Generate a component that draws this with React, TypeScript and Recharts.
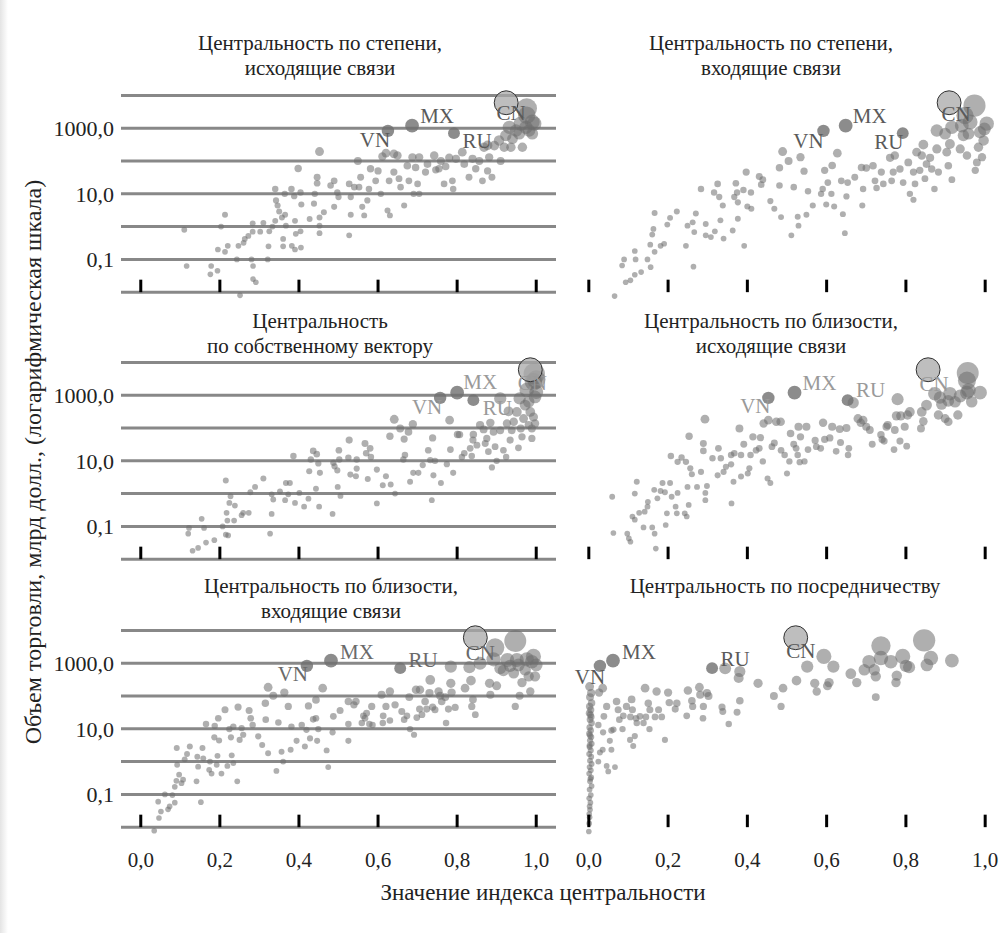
import React from 'react'
import { ScatterChart, Scatter, XAxis, YAxis, CartesianGrid } from 'recharts'

const FONT = "'Liberation Serif', 'DejaVu Serif', serif"

// axis ticks
const gridTicks = [0.01, 0.1, 1, 10, 100, 1000, 10000]
const yTickLabels: Record<string, string> = { '0.1': '0,1', '10': '10,0', '1000': '1000,0' }
const xTicks = [0, 0.2, 0.4, 0.6, 0.8, 1]

// labelled countries, trade volume (bn USD)
const hlCodes = ['VN', 'MX', 'RU', 'CN']
const hlVolume = [830, 1200, 710, 6000]

// centrality of labelled countries in each panel
const degreeOutHl = [0.625, 0.686, 0.792, 0.924]
const degreeInHl = [0.592, 0.648, 0.792, 0.909]
const eigenHl = [0.757, 0.8, 0.841, 0.985]
const closeOutHl = [0.453, 0.519, 0.653, 0.856]
const closeInHl = [0.42, 0.481, 0.656, 0.846]
const betweenHl = [0.028, 0.061, 0.311, 0.522]

// [centrality, trade volume]
const degreeOut: [number, number][] = [
  [0.11, 0.8], [0.116, 0.063], [0.178, 0.063], [0.176, 0.035], [0.194, 0.045], [0.195, 0.2], [0.213, 2.3], [0.203, 1.0],
  [0.22, 0.26], [0.213, 0.17], [0.243, 0.1], [0.247, 0.26], [0.26, 0.32], [0.263, 0.42], [0.272, 0.52], [0.28, 0.1],
  [0.284, 0.063], [0.284, 0.025], [0.291, 0.02], [0.251, 0.008], [0.283, 0.7], [0.283, 1.26], [0.302, 0.7], [0.31, 1.3],
  [0.321, 0.1], [0.323, 0.25], [0.325, 0.72], [0.333, 1.0], [0.34, 1.5], [0.342, 6.3], [0.34, 14], [0.346, 4.4],
  [0.35, 2.9], [0.357, 1.9], [0.36, 0.42], [0.36, 0.25], [0.364, 10], [0.365, 2.3], [0.367, 1.07], [0.381, 14],
  [0.388, 8.5], [0.382, 0.26], [0.39, 0.2], [0.39, 1.5], [0.392, 0.6], [0.398, 59],
  [0.452, 195], [0.549, 100], [0.404, 11], [0.406, 4.7], [0.404, 0.72], [0.405, 0.23], [0.446, 32], [0.446, 21],
  [0.44, 10], [0.438, 5], [0.427, 1.7], [0.452, 1.9], [0.452, 1.07], [0.452, 0.63], [0.463, 2.75], [0.48, 18],
  [0.489, 25], [0.497, 11], [0.489, 4], [0.5, 8], [0.527, 20], [0.531, 8], [0.531, 2.3], [0.527, 0.54],
  [0.54, 16], [0.552, 16], [0.556, 32], [0.56, 4], [0.565, 2.2], [0.573, 6.3], [0.577, 14], [0.581, 58],
  [0.594, 25], [0.6, 50], [0.607, 10], [0.611, 138], [0.62, 174], [0.624, 3.1], [0.63, 2.2], [0.628, 25],
  [0.64, 46], [0.64, 166], [0.649, 148], [0.653, 29], [0.657, 16], [0.666, 4.4], [0.674, 72], [0.678, 25],
  [0.687, 130], [0.69, 10], [0.695, 64], [0.7, 20], [0.704, 130], [0.704, 10], [0.72, 46], [0.725, 81],
  [0.742, 148], [0.746, 54], [0.754, 58], [0.759, 100], [0.767, 20], [0.771, 68], [0.78, 126], [0.788, 25],
  [0.79, 14], [0.797, 117], [0.813, 186], [0.818, 81], [0.83, 32], [0.839, 117], [0.847, 58], [0.856, 100],
  [0.864, 25], [0.868, 263], [0.877, 50], [0.877, 300], [0.881, 130], [0.888, 32], [0.894, 295], [0.906, 426],
  [0.91, 100], [0.919, 263], [0.923, 600], [0.932, 1070], [0.936, 263], [0.94, 480], [0.949, 850], [0.957, 680],
  [0.961, 1380], [0.965, 263], [0.974, 1070], [0.982, 850], [0.99, 1550], [0.995, 1380], [0.976, 4000], [0.976, 2500],
  [0.99, 680],
]

const degreeIn: [number, number][] = [
  [0.065, 0.0076], [0.084, 0.065], [0.093, 0.02], [0.105, 0.023], [0.116, 0.034], [0.132, 0.041], [0.089, 0.1], [0.116, 0.18],
  [0.118, 0.1], [0.148, 0.1], [0.156, 0.058], [0.155, 0.28], [0.16, 0.57], [0.166, 2.6], [0.163, 0.85], [0.166, 0.17],
  [0.181, 0.26], [0.19, 0.3], [0.198, 1.15], [0.205, 1.85], [0.222, 2.9], [0.245, 0.26], [0.249, 1.07], [0.262, 1.35],
  [0.266, 0.68], [0.264, 0.06], [0.27, 2.5], [0.283, 14], [0.295, 1.2], [0.295, 0.54], [0.308, 0.48], [0.316, 11],
  [0.318, 0.72], [0.325, 20], [0.329, 8], [0.332, 1.55], [0.338, 4.4], [0.34, 0.43], [0.363, 0.76], [0.367, 8],
  [0.371, 21], [0.374, 11], [0.376, 1.74], [0.376, 5.5], [0.39, 13], [0.392, 0.26], [0.397, 46], [0.4, 4.1],
  [0.41, 3.5], [0.409, 11], [0.43, 34], [0.435, 19], [0.439, 27], [0.458, 6], [0.468, 3.5], [0.481, 62],
  [0.481, 18], [0.485, 1.95], [0.489, 195], [0.504, 100], [0.511, 0.54], [0.517, 16], [0.527, 2.0], [0.529, 1.07],
  [0.534, 131], [0.543, 49], [0.549, 2.3], [0.553, 12], [0.565, 4.4], [0.586, 10], [0.59, 14], [0.595, 52],
  [0.599, 4.7], [0.603, 22], [0.612, 10], [0.614, 73], [0.619, 4.1], [0.627, 174], [0.637, 25], [0.641, 2.4],
  [0.646, 0.63], [0.65, 8.3], [0.653, 22], [0.671, 32], [0.688, 64], [0.69, 4.4], [0.692, 14], [0.7, 61],
  [0.717, 72], [0.722, 25], [0.726, 15], [0.738, 46], [0.743, 20], [0.76, 125], [0.764, 25], [0.768, 46],
  [0.772, 148], [0.785, 57], [0.793, 22], [0.806, 91], [0.81, 10], [0.819, 6.6], [0.819, 46], [0.823, 20],
  [0.827, 186], [0.835, 52], [0.84, 148], [0.844, 316], [0.848, 29], [0.852, 81], [0.861, 125], [0.865, 57],
  [0.872, 14], [0.878, 234], [0.878, 850], [0.882, 46], [0.899, 680], [0.903, 186], [0.907, 72], [0.911, 330],
  [0.916, 27], [0.916, 1070], [0.937, 234], [0.941, 1200], [0.945, 600], [0.954, 148], [0.958, 680], [0.962, 1550],
  [0.975, 52], [0.979, 91], [0.983, 263], [0.992, 131], [0.996, 426], [0.998, 950], [0.987, 760], [0.973, 4900],
  [0.949, 2450], [1.004, 1380],
]

const eigen: [number, number][] = [
  [0.12, 0.06], [0.122, 0.09], [0.131, 0.018], [0.145, 0.022], [0.154, 0.17], [0.16, 0.09], [0.165, 0.032], [0.186, 0.038],
  [0.207, 0.1], [0.215, 2.5], [0.217, 0.26], [0.219, 0.15], [0.215, 0.056], [0.221, 0.053], [0.224, 0.52], [0.227, 0.83],
  [0.238, 0.43], [0.236, 0.15], [0.255, 0.22], [0.259, 0.26], [0.273, 0.26], [0.277, 1.1], [0.289, 1.6], [0.31, 2.9],
  [0.327, 0.06], [0.331, 0.24], [0.331, 0.95], [0.335, 0.66], [0.352, 1.17], [0.365, 0.63], [0.367, 2.1], [0.377, 2.1],
  [0.373, 0.95], [0.386, 14], [0.39, 0.52], [0.401, 1.05], [0.413, 0.4], [0.424, 0.7], [0.426, 4.8], [0.43, 11],
  [0.436, 20], [0.443, 1.4], [0.445, 16], [0.449, 8.3], [0.451, 0.4], [0.453, 4.3], [0.485, 0.24], [0.487, 8.7],
  [0.49, 6.8], [0.497, 5.1], [0.498, 1.6], [0.501, 21], [0.502, 11], [0.505, 0.85], [0.525, 12.5], [0.527, 43],
  [0.53, 3.8], [0.544, 3.4], [0.546, 5.8], [0.546, 11], [0.567, 34], [0.57, 17], [0.574, 2.8], [0.58, 24],
  [0.582, 13], [0.597, 0.5], [0.597, 5.4], [0.612, 1.8], [0.62, 3.4], [0.63, 56], [0.632, 1.9], [0.641, 185],
  [0.643, 1.0], [0.656, 97], [0.664, 11], [0.666, 46], [0.668, 15], [0.677, 76], [0.681, 2.3], [0.688, 131],
  [0.689, 4.3], [0.702, 4.3], [0.713, 7.4], [0.727, 21], [0.732, 10.5], [0.736, 0.63], [0.738, 50], [0.74, 3.6],
  [0.744, 10], [0.759, 2.1], [0.774, 7.9], [0.781, 174], [0.783, 22], [0.79, 4.3], [0.801, 64], [0.806, 63],
  [0.812, 13], [0.818, 17], [0.833, 24], [0.837, 14], [0.84, 43], [0.841, 64], [0.85, 30], [0.858, 123],
  [0.867, 91], [0.871, 34], [0.875, 48], [0.879, 19], [0.884, 144], [0.888, 6.3], [0.892, 76], [0.896, 27],
  [0.9, 10], [0.909, 800], [0.909, 85], [0.917, 21], [0.924, 13], [0.926, 138], [0.93, 324], [0.934, 43],
  [0.938, 85], [0.943, 155], [0.951, 309], [0.955, 25], [0.958, 800], [0.961, 97], [0.964, 54], [0.968, 195],
  [0.972, 500], [0.976, 1440], [0.981, 123], [0.981, 630], [0.985, 310], [0.989, 48], [0.989, 97], [0.993, 2600],
  [0.993, 218], [0.997, 890], [0.997, 138], [1.0, 1260], [0.995, 4500], [1.0, 3000],
]

const closeOut: [number, number][] = [
  [0.059, 0.8], [0.062, 0.063], [0.097, 0.06], [0.101, 0.043], [0.105, 0.034], [0.11, 0.2], [0.116, 1.0], [0.121, 2.3],
  [0.116, 0.16], [0.127, 0.26], [0.138, 0.093], [0.141, 0.28], [0.148, 0.4], [0.149, 0.56], [0.16, 0.093], [0.165, 1.3],
  [0.166, 0.06], [0.169, 0.021], [0.173, 0.72], [0.181, 1.2], [0.186, 2.1], [0.192, 1.1], [0.197, 0.25], [0.194, 0.11],
  [0.205, 2.1], [0.207, 14], [0.209, 0.8], [0.219, 0.4], [0.222, 0.25], [0.224, 1.05], [0.224, 9.3], [0.234, 12.6],
  [0.245, 9.3], [0.242, 0.25], [0.247, 0.2], [0.249, 1.6], [0.252, 0.45], [0.256, 5.9], [0.253, 56], [0.26, 3.9],
  [0.273, 1.6], [0.283, 4.6], [0.289, 20], [0.289, 34], [0.294, 1.05], [0.294, 0.63], [0.293, 186], [0.298, 1.7],
  [0.312, 12], [0.325, 3.6], [0.327, 24], [0.333, 12], [0.34, 4.6], [0.346, 6.6], [0.359, 15], [0.359, 7.8],
  [0.36, 0.5], [0.365, 2.3], [0.367, 17], [0.38, 97], [0.384, 3.3], [0.384, 15], [0.391, 32], [0.401, 4.1],
  [0.405, 5.9], [0.408, 15], [0.414, 54], [0.422, 21], [0.43, 24], [0.433, 51], [0.439, 9.6], [0.441, 138],
  [0.451, 2.9], [0.458, 2.1], [0.453, 174], [0.462, 27], [0.468, 35], [0.473, 155], [0.484, 155], [0.485, 21],
  [0.494, 15], [0.5, 4.1], [0.506, 9.6], [0.509, 68], [0.517, 32], [0.523, 24], [0.527, 15], [0.529, 110],
  [0.532, 9.1], [0.534, 54], [0.544, 9.6], [0.549, 110], [0.553, 22], [0.571, 42], [0.574, 27], [0.585, 24],
  [0.591, 145], [0.595, 45], [0.608, 50], [0.614, 110], [0.624, 19.5], [0.633, 93], [0.635, 36], [0.654, 15],
  [0.656, 24], [0.65, 100], [0.667, 590], [0.679, 195], [0.686, 145], [0.692, 174], [0.7, 110], [0.709, 87],
  [0.715, 32], [0.737, 62], [0.74, 45], [0.745, 40], [0.751, 110], [0.754, 123], [0.77, 22], [0.772, 87],
  [0.776, 235], [0.779, 760], [0.785, 40], [0.787, 235], [0.797, 110], [0.802, 28], [0.804, 250], [0.81, 310],
  [0.838, 97], [0.84, 310], [0.844, 160], [0.852, 500], [0.873, 1120], [0.882, 250], [0.886, 850], [0.89, 530],
  [0.899, 195], [0.907, 155], [0.907, 670], [0.911, 1120], [0.924, 630], [0.931, 250], [0.937, 950], [0.954, 2800],
  [0.958, 1400], [0.954, 1200], [0.966, 630], [0.987, 1200], [0.956, 4800],
]

const closeIn: [number, number][] = [
  [0.034, 0.0078], [0.046, 0.019], [0.051, 0.03], [0.044, 0.06], [0.061, 0.1], [0.069, 0.035], [0.073, 0.043], [0.08, 0.095],
  [0.086, 0.056], [0.086, 0.17], [0.09, 0.26], [0.092, 0.8], [0.091, 2.6], [0.097, 0.4], [0.103, 0.22], [0.107, 0.28],
  [0.111, 1.17], [0.117, 1.7], [0.124, 2.9], [0.141, 0.25], [0.143, 1.4], [0.145, 0.7], [0.152, 0.058], [0.156, 2.6],
  [0.158, 1.26], [0.165, 14], [0.173, 0.56], [0.175, 1.0], [0.179, 0.43], [0.186, 5.5], [0.187, 12.3], [0.192, 0.8],
  [0.194, 1.5], [0.196, 21], [0.198, 4.4], [0.204, 0.43], [0.213, 38], [0.219, 0.74], [0.224, 9.8], [0.228, 5.5],
  [0.23, 1.55], [0.234, 0.9], [0.234, 11.7], [0.244, 0.25], [0.246, 46], [0.25, 4.6], [0.255, 10.5], [0.259, 6.6],
  [0.274, 36], [0.278, 21], [0.283, 13], [0.297, 5.9], [0.307, 3.2], [0.315, 60], [0.316, 19], [0.322, 185],
  [0.322, 1.8], [0.335, 102], [0.343, 0.52], [0.348, 15.5], [0.356, 2.0], [0.36, 1.0], [0.363, 128], [0.373, 48],
  [0.379, 2.3], [0.381, 11.7], [0.394, 4.3], [0.407, 13], [0.415, 2.9], [0.419, 9.3], [0.424, 50], [0.428, 5.1],
  [0.436, 19.5], [0.443, 21], [0.443, 76], [0.446, 4.3], [0.449, 9.8], [0.46, 174], [0.47, 2.2], [0.474, 0.68],
  [0.485, 7.8], [0.487, 24], [0.504, 36], [0.525, 68], [0.525, 14], [0.525, 4.3], [0.539, 54], [0.544, 68],
  [0.559, 15], [0.563, 25], [0.567, 21], [0.571, 30], [0.578, 14], [0.584, 48], [0.586, 13], [0.609, 110],
  [0.612, 15], [0.613, 25], [0.62, 48], [0.63, 138], [0.63, 18], [0.643, 54], [0.66, 34], [0.666, 19],
  [0.673, 25], [0.679, 93], [0.681, 9.8], [0.691, 6.6], [0.696, 155], [0.698, 22], [0.705, 40], [0.706, 155],
  [0.711, 27], [0.719, 68], [0.723, 40], [0.73, 123], [0.732, 310], [0.738, 46], [0.744, 38], [0.753, 138],
  [0.757, 102], [0.761, 68], [0.77, 93], [0.772, 15], [0.778, 40], [0.784, 790], [0.784, 245], [0.786, 128],
  [0.795, 45], [0.82, 174], [0.835, 295], [0.84, 79], [0.837, 48], [0.846, 27], [0.831, 760], [0.858, 1000],
  [0.882, 245], [0.884, 110], [0.892, 1320], [0.9, 205], [0.896, 3000], [0.909, 700], [0.917, 600], [0.927, 1260],
  [0.934, 830], [0.943, 500], [0.947, 48], [0.951, 1260], [0.947, 4800], [0.955, 890], [0.958, 102], [0.964, 257],
  [0.972, 630], [0.976, 1320], [0.981, 400], [0.985, 138], [0.989, 1120], [0.993, 1620], [0.997, 400], [1.0, 890],
]

const between: [number, number][] = [
  [0.002, 195], [0.006, 123], [0.003, 93], [0.007, 61], [0.002, 48], [0.005, 38], [0.001, 30], [0.006, 23],
  [0.003, 19], [0.007, 15], [0.002, 11], [0.005, 8.9], [0.001, 7.1], [0.006, 5.6], [0.003, 4.4], [0.007, 3.5],
  [0.002, 2.8], [0.005, 2.2], [0.001, 1.7], [0.006, 1.4], [0.003, 1.07], [0.007, 0.85], [0.002, 0.68], [0.005, 0.54],
  [0.001, 0.43], [0.006, 0.33], [0.003, 0.25], [0.007, 0.18], [0.002, 0.14], [0.005, 0.096], [0.001, 0.076], [0.004, 0.056],
  [0.002, 0.043], [0.003, 0.034], [0.001, 0.025], [0.002, 0.02], [0.001, 0.013], [0.0, 0.0074], [0.004, 27], [0.003, 6.3],
  [0.004, 0.3], [0.002, 3.1],
  [0.024, 1.0], [0.028, 1.9], [0.035, 2.3], [0.024, 13], [0.036, 7.8], [0.038, 24], [0.045, 0.74], [0.049, 0.5],
  [0.053, 4.3], [0.057, 2.3], [0.057, 8.9], [0.045, 48], [0.035, 174], [0.026, 128], [0.066, 0.68], [0.062, 9.5],
  [0.07, 68], [0.074, 38], [0.077, 19], [0.085, 9.8], [0.087, 25], [0.095, 48], [0.104, 4.6], [0.105, 23],
  [0.108, 79], [0.11, 38], [0.112, 3.0], [0.116, 6.0], [0.119, 21], [0.121, 15], [0.129, 24], [0.138, 15],
  [0.142, 174], [0.144, 23], [0.15, 60], [0.153, 9.8], [0.154, 38], [0.167, 23], [0.171, 138], [0.176, 38],
  [0.184, 23], [0.192, 4.6], [0.2, 128], [0.203, 63], [0.218, 40], [0.222, 60], [0.247, 25], [0.25, 148],
  [0.262, 48], [0.26, 72], [0.279, 185], [0.281, 110], [0.288, 21], [0.289, 48], [0.298, 123], [0.302, 100],
  [0.336, 46], [0.338, 34], [0.353, 14], [0.374, 32], [0.378, 355], [0.381, 560], [0.381, 72], [0.344, 700],
  [0.427, 245], [0.467, 100], [0.485, 48], [0.49, 174], [0.524, 295], [0.551, 790], [0.57, 245], [0.575, 138],
  [0.593, 1620], [0.602, 205], [0.606, 257], [0.617, 790], [0.661, 480], [0.676, 257], [0.695, 630], [0.707, 1120],
  [0.72, 630], [0.724, 93], [0.724, 400], [0.737, 3400], [0.737, 1440], [0.762, 1120], [0.775, 257], [0.777, 420],
  [0.792, 1620], [0.8, 830], [0.808, 760], [0.846, 5000], [0.853, 890], [0.863, 1440], [0.916, 1200],
]

// geometry of every panel (pixels)
const LOG_LO = -2.3
const LOG_HI = 4.35
const PLOT_H = 218
const DECADE = PLOT_H / (LOG_HI - LOG_LO)
const MARGIN_TOP = 10
const XAXIS_H = 40
const CHART_H = MARGIN_TOP + PLOT_H + XAXIS_H
const ROW_TOP = [95, 362.3, 630.7] // y of the 10000 line
const TITLE_Y = [43, 321, 586]
const BOTTOM_GAP = -LOG_LO - 2 // decades between 0.01 line and plot bottom

const radiusOf = (v: number) => 2.8 + 0.118 * Math.sqrt(v)
const fmtX = (v: number) => v.toFixed(1).replace('.', ',')

type Offsets = Record<string, [number, number]>

const panels = [
  {
    title: ['Центральность по степени,', 'исходящие связи'], titleX: 320, pts: degreeOut, hl: degreeOutHl, col: 0, row: 0,
    labelColor: '#5a5a5a',
    offsets: { VN: [-13, 9], MX: [25, -10], RU: [23, 8], CN: [5, 10] } as Offsets,
  },
  {
    title: ['Центральность по степени,', 'входящие связи'], titleX: 771, pts: degreeIn, hl: degreeInHl, col: 1, row: 0,
    labelColor: '#5a5a5a',
    offsets: { VN: [-15, 10], MX: [24, -10], RU: [-14, 9], CN: [7, 11] } as Offsets,
  },
  {
    title: ['Центральность', 'по собственному вектору'], titleX: 320, pts: eigen, hl: eigenHl, col: 0, row: 1,
    labelColor: '#9a9a9a',
    offsets: { VN: [-13, 9], MX: [23, -11], RU: [24, 8], CN: [2, 13] } as Offsets,
  },
  {
    title: ['Центральность по близости,', 'исходящие связи'], titleX: 771, pts: closeOut, hl: closeOutHl, col: 1, row: 1,
    labelColor: '#9a9a9a',
    offsets: { VN: [-13, 8], MX: [25, -10], RU: [23, -10], CN: [6, 14] } as Offsets,
  },
  {
    title: ['Центральность по близости,', 'входящие связи'], titleX: 331, pts: closeIn, hl: closeInHl, col: 0, row: 2,
    labelColor: '#6a6a6a',
    offsets: { VN: [-14, 8], MX: [26, -9], RU: [23, -8], CN: [5, 15] } as Offsets,
  },
  {
    title: ['Центральность по посредничеству'], titleX: 785, pts: between, hl: betweenHl, col: 1, row: 2,
    labelColor: '#5a5a5a',
    offsets: { VN: [-10, 11], MX: [26, -9], RU: [23, -9], CN: [5, 13] } as Offsets,
  },
]

const Dot = (props: any) => {
  const { cx, cy, payload } = props
  if (cx == null || cy == null) return null
  return <circle cx={cx} cy={cy} r={radiusOf(payload.y)} fill="#6e6e6e" fillOpacity={0.55} />
}

const makeHlShape = (offsets: Offsets, color: string) => (props: any) => {
  const { cx, cy, payload } = props
  if (cx == null || cy == null) return null
  const isCN = payload.code === 'CN'
  const [dx, dy] = offsets[payload.code]
  return (
    <g>
      <circle
        cx={cx}
        cy={cy}
        r={radiusOf(payload.y)}
        fill={isCN ? '#a8a8a8' : '#6f6f6f'}
        fillOpacity={isCN ? 0.75 : 0.8}
        stroke={isCN ? '#333' : 'none'}
        strokeWidth={1}
      />
      <text x={cx + dx} y={cy + dy + 7} textAnchor="middle" fontSize={21} fontFamily={FONT} fill={color}>
        {payload.code}
      </text>
    </g>
  )
}

const makeXTick = (showLabel: boolean) => (props: any) => {
  const { x, y, payload } = props
  const base = y - BOTTOM_GAP * DECADE
  return (
    <g>
      <line x1={x} x2={x} y1={base} y2={base - 12.5} stroke="#000" strokeWidth={3} />
      {showLabel && (
        <text x={x} y={y + 30} textAnchor="middle" fontSize={21} fontFamily={FONT} fill="#222">
          {fmtX(payload.value)}
        </text>
      )}
    </g>
  )
}

function Panel({ p }: { p: (typeof panels)[number] }) {
  const data = p.pts.map(([x, y]) => ({ x, y }))
  const hlData = hlCodes.map((code, i) => ({ code, x: p.hl[i], y: hlVolume[i] }))
  const isLeft = p.col === 0
  const width = isLeft ? 560 : 447
  const left = isLeft ? 0 : 560
  const top = ROW_TOP[p.row] - (LOG_HI - 4) * DECADE - MARGIN_TOP
  return (
    <div style={{ position: 'absolute', left, top, width, height: CHART_H }}>
      <ScatterChart
        width={width}
        height={CHART_H}
        margin={{ top: MARGIN_TOP, right: isLeft ? 4 : 2, bottom: 0, left: isLeft ? 61 : 9 }}
      >
        <CartesianGrid vertical={false} syncWithTicks stroke="#888" strokeWidth={3} />
        <XAxis
          type="number"
          dataKey="x"
          domain={[-0.05, 1.05]}
          allowDataOverflow
          ticks={xTicks}
          interval={0}
          height={XAXIS_H}
          axisLine={false}
          tickLine={false}
          tickSize={0}
          tickMargin={0}
          tick={makeXTick(p.row === 2)}
        />
        <YAxis
          type="number"
          dataKey="y"
          scale="log"
          domain={[10 ** LOG_LO, 10 ** LOG_HI]}
          allowDataOverflow
          ticks={gridTicks}
          interval={0}
          width={isLeft ? 60 : 0}
          axisLine={false}
          tickLine={false}
          tickSize={0}
          tickMargin={7}
          tick={isLeft ? { fontSize: 22, fontFamily: FONT, fill: '#222' } : false}
          tickFormatter={(v: number) => yTickLabels[String(v)] ?? ''}
        />
        <Scatter data={data} shape={Dot} isAnimationActive={false} />
        <Scatter data={hlData} shape={makeHlShape(p.offsets, p.labelColor)} isAnimationActive={false} />
      </ScatterChart>
    </div>
  )
}

export default function App() {
  return (
    <div
      style={{
        position: 'absolute',
        left: 0,
        top: 0,
        width: 1007,
        height: 933,
        background: '#fff',
        fontFamily: FONT,
        color: '#222',
        overflow: 'hidden',
      }}
    >
      <div
        style={{
          position: 'absolute',
          left: 0,
          top: 0,
          width: 8,
          height: 933,
          background: 'linear-gradient(to right, #e4e4e4, #fff)',
        }}
      />
      {panels.map((p, i) => (
        <div
          key={'t' + i}
          style={{
            position: 'absolute',
            left: p.titleX - 250,
            width: 500,
            top: TITLE_Y[p.row] - 12.5,
            textAlign: 'center',
            fontSize: 21,
            lineHeight: '25px',
          }}
        >
          {p.title.map((t, j) => (
            <div key={j}>{t}</div>
          ))}
        </div>
      ))}
      {panels.map((p, i) => (
        <Panel key={i} p={p} />
      ))}
      <div
        style={{
          position: 'absolute',
          left: 33 - 350,
          top: 462 - 12,
          width: 700,
          height: 24,
          lineHeight: '24px',
          textAlign: 'center',
          fontSize: 24,
          transform: 'rotate(-90deg)',
        }}
      >
        Объем торговли, млрд долл., (логарифмическая шкала)
      </div>
      <div
        style={{
          position: 'absolute',
          left: 543 - 300,
          top: 893 - 12,
          width: 600,
          lineHeight: '24px',
          textAlign: 'center',
          fontSize: 23,
        }}
      >
        Значение индекса центральности
      </div>
    </div>
  )
}
